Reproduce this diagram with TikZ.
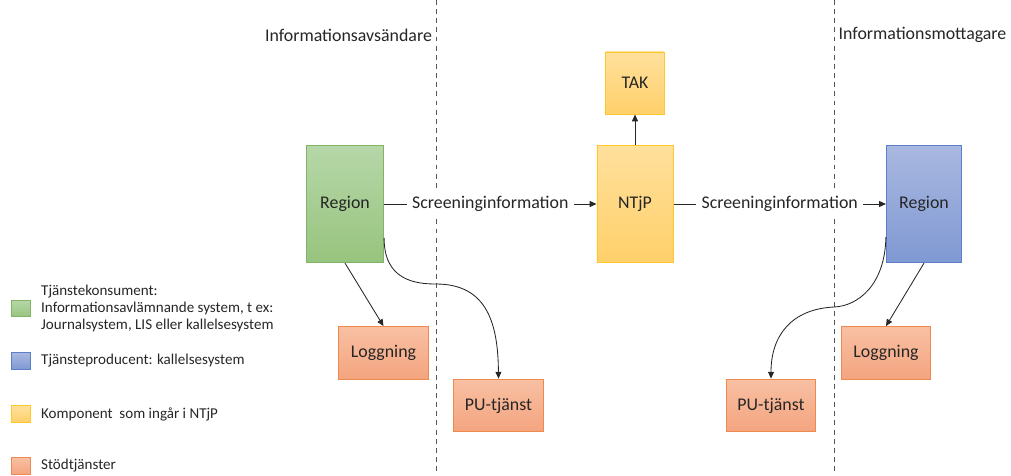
\documentclass[tikz,border=0pt]{standalone}
\usepackage{fontspec}
\setmainfont{Carlito}
\usetikzlibrary{arrows.meta,positioning}
\definecolor{txt}{HTML}{262626}
\definecolor{grntop}{HTML}{B6D7A8}
\definecolor{grnbot}{HTML}{97C47E}
\definecolor{grnline}{HTML}{82B366}
\definecolor{blutop}{HTML}{A9B8E0}
\definecolor{blubot}{HTML}{8099D3}
\definecolor{bluline}{HTML}{5B7FC8}
\definecolor{yeltop}{HTML}{FFE09C}
\definecolor{yelbot}{HTML}{FFD06A}
\definecolor{yelline}{HTML}{FFC72C}
\definecolor{orgtop}{HTML}{F8C0A3}
\definecolor{orgbot}{HTML}{F4A47F}
\definecolor{orgline}{HTML}{EE8A4F}
\definecolor{sepgray}{HTML}{555555}

\tikzset{
  box/.style={draw, line width=0.7pt, text=txt, font=\fontsize{12.7}{15}\selectfont},
  consumer/.style={box, draw=grnline, top color=grntop, bottom color=grnbot,
    minimum width=1.93cm, minimum height=2.93cm},
  producer/.style={box, draw=bluline, top color=blutop, bottom color=blubot,
    minimum width=1.88cm, minimum height=2.93cm},
  ntjp/.style={box, draw=yelline, top color=yeltop, bottom color=yelbot},
  support/.style={box, draw=orgline, top color=orgtop, bottom color=orgbot,
    minimum width=2.23cm, minimum height=1.32cm},
  msg/.style={fill=white, text=txt, inner sep=4pt, font=\fontsize{12.7}{15}\selectfont},
  side/.style={text=txt, font=\fontsize{12.7}{15}\selectfont},
  sep/.style={draw=sepgray, line width=0.7pt, dash pattern=on 3.5pt off 3pt},
  flow/.style={draw=black!85, line width=0.6pt, -{Triangle[length=1.7mm,width=1.5mm]}},
  keybox/.style={draw, line width=0.7pt, minimum width=0.47cm, minimum height=0.41cm, inner sep=0pt},
  keytext/.style={text=txt, inner sep=0pt, align=left, font=\fontsize{10.7}{12.1}\selectfont}
}

\begin{document}
\begin{tikzpicture}[x=0.025cm,y=-0.025cm]
  \useasboundingbox (0,0) rectangle (1011,475);

  % dividers
  \coordinate (divA top) at (436,0);
  \coordinate (divA bot) at (436,475);
  \coordinate (divB top) at (834,0);
  \coordinate (divB bot) at (834,475);
  \draw[sep] (divA top) -- (divA bot);
  \draw[sep] (divB top) -- (divB bot);

  \node[side] (sender) at (348.5,35) {Informationsavsändare};
  \node[side] (receiver) at (922.5,35) {Informationsmottagare};

  % main boxes
  \node[consumer] (regA) at (345,204) {Region};
  \node[ntjp, minimum width=1.9cm, minimum height=2.93cm] (hub) at (635,204) {NTjP};
  \node[ntjp, minimum width=1.46cm, minimum height=1.55cm] (tak) at (635,83) {TAK};
  \node[producer] (regB) at (924,204) {Region};

  \node[support] (logA) at (383.5,353) {Loggning};
  \node[support] (puA) at (498.5,405.5) {PU-tjänst};
  \node[support] (logB) at (886,353) {Loggning};
  \node[support] (puB) at (771,405.5) {PU-tjänst};

  % flows
  \draw[flow] (regA) -- node[msg] {Screeninginformation} (hub);
  \draw[flow] (hub) -- node[msg] {Screeninginformation} (regB);
  \draw[flow] (hub) -- (tak);
  \draw[flow] (regA.south) -- (logA.north);
  \draw[flow] (regB.south) -- (logB.north);
  \draw[flow] (regA.-41) .. controls (384,280) and (415,284) .. (436,284)
    .. controls (488,284) and (498,325) .. (puA.north);
  \draw[flow] (regB.221) .. controls (885,285) and (858,306) .. (834,307)
    .. controls (792,309) and (771,335) .. (puB.north);

  % legend
  \node[keybox, draw=grnline, top color=grntop, bottom color=grnbot] (keyA) at (21,308.5) {};
  \node[keybox, draw=bluline, top color=blutop, bottom color=blubot] (keyB) at (21,361) {};
  \node[keybox, draw=yelline, top color=yeltop, bottom color=yelbot] (keyC) at (21,414) {};
  \node[keybox, draw=orgline, top color=orgtop, bottom color=orgbot] (keyD) at (21,466) {};
  \node[keytext, anchor=west, right=0.25cm of keyA] (keyAtxt)
    {Tjänstekonsument:\\Informationsavlämnande system, t ex:\\Journalsystem, LIS eller kallelsesystem};
  \node[keytext, anchor=west, right=0.25cm of keyB] (keyBtxt) {Tjänsteproducent: kallelsesystem};
  \node[keytext, anchor=west, right=0.25cm of keyC] (keyCtxt) {Komponent\ \ som ingår i NTjP};
  \node[keytext, anchor=west, right=0.25cm of keyD] (keyDtxt) {Stödtjänster};
\end{tikzpicture}
\end{document}
